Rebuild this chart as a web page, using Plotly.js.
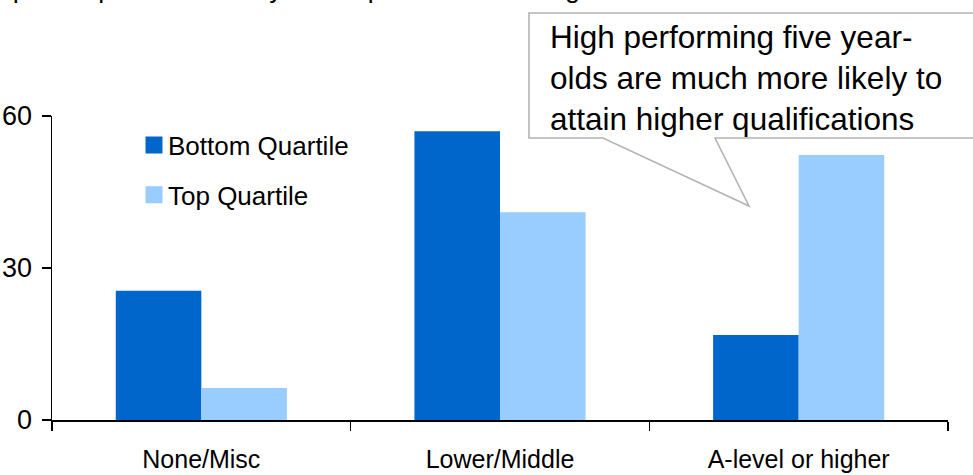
<!DOCTYPE html>
<html>
<head>
<meta charset="utf-8">
<script src="https://cdn.plot.ly/plotly-3.0.1.min.js"></script>
<style>
html,body{margin:0;padding:0;background:#fff;}
#chart{width:973px;height:475px;}
</style>
</head>
<body>
<div id="chart"></div>
<script>
var categories = ["None/Misc", "Lower/Middle", "A-level or higher"];
var bottomQuartile = [25.5, 57.0, 16.8];
var topQuartile = [6.3, 41.0, 52.3];
var seriesNames = ["Bottom Quartile", "Top Quartile"];
var yTicks = [0, 30, 60];
var calloutText = "High performing five year-<br>olds are much more likely to<br>attain higher qualifications";
var headerText = "quartile position in early development score at age 5";

// pixel -> paper helpers (plot area 52..948 x, 116..420 y)
var L = 52, R = 948, T = 116, B = 420;
function px(x){ return (x - L) / (R - L); }
function py(y){ return (B - y) / (B - T); }

var font = "Arial, 'Liberation Sans', sans-serif";

var traces = [
  {type: "bar", name: seriesNames[0], x: categories, y: bottomQuartile,
   marker: {color: "#0066CC"}, legendgroup: "a", hoverinfo: "none"},
  {type: "bar", name: seriesNames[1], x: categories, y: topQuartile,
   marker: {color: "#99CCFF"}, legendgroup: "b", hoverinfo: "none"}
];

var calloutPts = [[529,13],[1000,13],[1000,138],[715,138],[749,206],[603,138],[529,138]];
var path = calloutPts.map(function(p, i){ return (i ? "L" : "M") + px(p[0]) + "," + py(p[1]); }).join(" ") + " Z";

var layout = {
  width: 973, height: 475,
  margin: {l: L, r: 973 - R, t: T, b: 475 - B, pad: 0},
  paper_bgcolor: "#fff", plot_bgcolor: "#fff",
  font: {family: font, color: "#000", size: 24},
  barmode: "group", bargap: 0.427, bargroupgap: 0,
  showlegend: true,
  legend: {x: px(128), y: py(121.5), xanchor: "left", yanchor: "top",
           font: {size: 26, family: font}, bgcolor: "rgba(0,0,0,0)",
           tracegroupgap: 13, traceorder: "grouped"},
  xaxis: {type: "category", showline: true, linecolor: "#000", linewidth: 1.5,
          ticks: "outside", tickson: "boundaries", ticklen: 9, tickwidth: 1.5, tickcolor: "#000",
          tickfont: {size: 25}, ticklabelstandoff: 16, showgrid: false, zeroline: false, fixedrange: true},
  yaxis: {range: [0, 60], tickvals: yTicks, showline: true, linecolor: "#000", linewidth: 1.5,
          ticks: "outside", ticklen: 9, tickwidth: 1.5, tickcolor: "#000",
          tickfont: {size: 27}, ticklabelstandoff: 4, showgrid: false, zeroline: false, fixedrange: true},
  shapes: [
    {type: "path", xref: "paper", yref: "paper", path: path,
     fillcolor: "#fff", line: {color: "#b3b3b3", width: 1.6}, layer: "above"}
  ],
  annotations: [
    {xref: "paper", yref: "paper", x: px(548), y: py(78), xanchor: "left", yanchor: "middle",
     text: calloutText, showarrow: false, align: "left", font: {size: 31.5, family: font, color: "#000"}},
    {xref: "paper", yref: "paper", x: px(2), y: py(-11), xanchor: "left", yanchor: "middle",
     text: headerText, showarrow: false, align: "left", font: {size: 26.5, family: font, color: "#000"}}
  ]
};

Plotly.newPlot("chart", traces, layout, {staticPlot: true, displayModeBar: false}).then(function(gd){
  // enlarge legend swatches to match the reference (17px squares, closer to text)
  var pts = gd.querySelectorAll(".legend .legendpoints path");
  pts.forEach(function(p){
    p.setAttribute("d", "M8.5,8.5H-8.5V-8.5H8.5Z");
    var t = p.getAttribute("transform") || "";
    p.setAttribute("transform", "translate(6,0) " + t);
  });
});
</script>
</body>
</html>
